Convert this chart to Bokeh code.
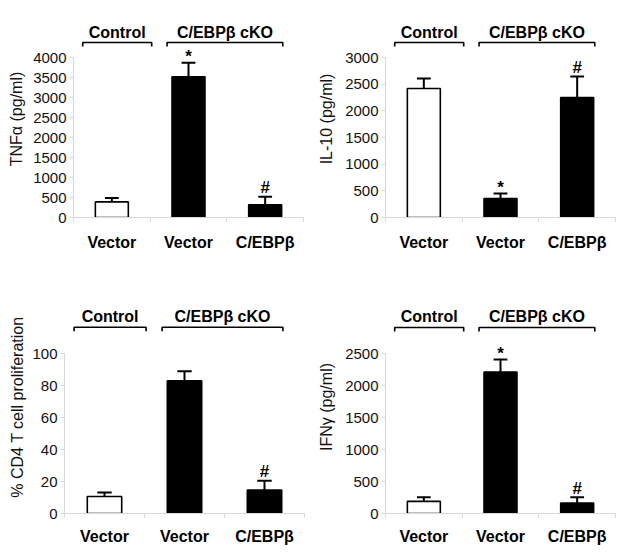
from bokeh.plotting import figure
from bokeh.layouts import row, column
from bokeh.models import Range1d, FixedTicker, Label
from bokeh.core.properties import value
from bokeh.embed import file_html
from bokeh.resources import INLINE

# ---------------- data ----------------
x_labels = ["Vector", "Vector", "C/EBPβ"]
group_names = ["Control", "C/EBPβ cKO"]
group_spans = [(0.12, 1.02), (1.22, 2.73)]
bar_fills = ["white", "black", "black"]

tnf_values = [390, 3520, 320]
tnf_errors = [100, 350, 200]
tnf_marks = ["", "*", "#"]

il10_values = [2420, 355, 2250]
il10_errors = [185, 95, 395]
il10_marks = ["", "*", "#"]

prolif_values = [10.7, 83.2, 14.7]
prolif_errors = [2.5, 6.0, 5.8]
prolif_marks = ["", "", "#"]

ifng_values = [190, 2210, 165]
ifng_errors = [65, 195, 90]
ifng_marks = ["", "*", "#"]

FONT = "Liberation Sans"
MARK_GAP_PX = {"*": 6, "#": 9, "": 0}


def panel(values, errors, marks, ylabel, top_tick, step, letter,
          fig_x, fig_y, fig_w, fig_h, fl, fr, ft, fb, axis_top_px,
          bracket_px, glabel_px, xlabel_standoff, ylabel_standoff, letter_xy=None):
    end = top_tick * (fb - ft) / (fb - axis_top_px)
    upp = top_tick / (fb - axis_top_px)  # data units per px (y)
    cpp = 3.0 / (fr - fl)                 # category units per px (x)

    def ypx(px):
        return (fb - px) * upp

    p = figure(width=fig_w, height=fig_h, output_backend="svg",
               toolbar_location=None, x_range=Range1d(0, 3),
               y_range=Range1d(0, end),
               min_border_left=fl - fig_x, min_border_right=fig_x + fig_w - fr,
               min_border_top=ft - fig_y, min_border_bottom=fig_y + fig_h - fb)
    p.outline_line_color = None
    p.grid.grid_line_color = None
    p.background_fill_color = "white"
    p.border_fill_color = "white"

    xs = [0.5, 1.5, 2.5]
    p.vbar(x=xs, top=values, bottom=0, width=0.43, fill_color=bar_fills,
           line_color="black", line_width=1.6)
    tops = [v + e for v, e in zip(values, errors)]
    p.segment(x0=xs, y0=values, x1=xs, y1=tops, line_color="black", line_width=2)
    p.segment(x0=[x - 0.09 for x in xs], y0=tops, x1=[x + 0.09 for x in xs],
              y1=tops, line_color="black", line_width=2)
    p.text(x=xs, y=[t + MARK_GAP_PX[m] * upp for t, m in zip(tops, marks)],
           text=marks, text_font=value(FONT),
           text_font_style="bold", text_font_size="17px", text_align="center",
           text_baseline="alphabetic", text_color="black")

    # group brackets
    drop = 4 * upp
    yb = ypx(bracket_px)
    for (a, b), name in zip(group_spans, group_names):
        p.line(x=[a, a, b, b], y=[yb - drop, yb, yb, yb - drop],
               line_color="black", line_width=1.6)
    p.text(x=[(a + b) / 2 for a, b in group_spans], y=[ypx(glabel_px)] * 2,
           text=group_names, text_font=value(FONT), text_font_style="bold",
           text_font_size="16px", text_align="center", text_baseline="middle",
           text_color="black")

    # axes
    ya = p.yaxis[0]
    ya.ticker = FixedTicker(ticks=list(range(0, top_tick + 1, step)))
    ya.bounds = (0, top_tick)
    ya.axis_label = ylabel
    ya.axis_label_text_font = FONT
    ya.axis_label_text_font_style = "normal"
    ya.axis_label_text_font_size = "16px"
    ya.axis_label_text_color = "#111111"
    ya.axis_label_standoff = ylabel_standoff
    ya.major_label_text_font = FONT
    ya.major_label_text_font_size = "15px"
    ya.major_label_text_color = "#111111"
    ya.major_label_standoff = 3
    ya.axis_line_color = "#d8d8d8"
    ya.major_tick_line_color = "#d8d8d8"
    ya.major_tick_out = 4
    ya.major_tick_in = 0
    ya.minor_tick_line_color = None

    xa = p.xaxis[0]
    xa.ticker = FixedTicker(ticks=xs, minor_ticks=[0, 1, 2, 3])
    xa.major_label_overrides = {x: l for x, l in zip(xs, x_labels)}
    xa.bounds = (0, 3)
    xa.major_label_text_font = FONT
    xa.major_label_text_font_style = "bold"
    xa.major_label_text_font_size = "16px"
    xa.major_label_text_color = "black"
    xa.major_label_standoff = xlabel_standoff
    xa.axis_line_color = "#d8d8d8"
    xa.major_tick_line_color = None
    xa.major_tick_out = 4
    xa.major_tick_in = 0
    xa.minor_tick_line_color = "#d8d8d8"
    xa.minor_tick_out = 4
    xa.minor_tick_in = 0

    if letter:
        lx, ly = letter_xy
        p.add_layout(Label(x=(lx - fl) * cpp, y=ypx(ly), text=letter,
                           text_font=FONT, text_font_style="bold",
                           text_font_size="22px", text_color="black",
                           text_baseline="alphabetic", text_align="left"))
    return p


p1 = panel(tnf_values, tnf_errors, tnf_marks, "TNFα (pg/ml)", 4000, 500, "A",
           0, 0, 312, 280, 73, 303, 20, 217, 57, 42, 32, 12, 5, letter_xy=(8, 24))
p2 = panel(il10_values, il10_errors, il10_marks, "IL-10 (pg/ml)", 3000, 500, None,
           312, 0, 312, 280, 385, 615, 20, 217, 57, 42, 32, 12, 7)
p3 = panel(prolif_values, prolif_errors, prolif_marks, "% CD4 T cell proliferation",
           100, 20, "B", 0, 280, 312, 275, 64, 304, 300, 515, 354, 327, 316, 10, 3,
           letter_xy=(9, 326))
p4 = panel(ifng_values, ifng_errors, ifng_marks, "IFNγ (pg/ml)", 2500, 500, None,
           312, 280, 312, 275, 385, 615, 300, 513, 353, 327, 316, 10, 7)

layout = column(row(p1, p2), row(p3, p4))
open("out.html", "w").write(file_html(layout, INLINE))
